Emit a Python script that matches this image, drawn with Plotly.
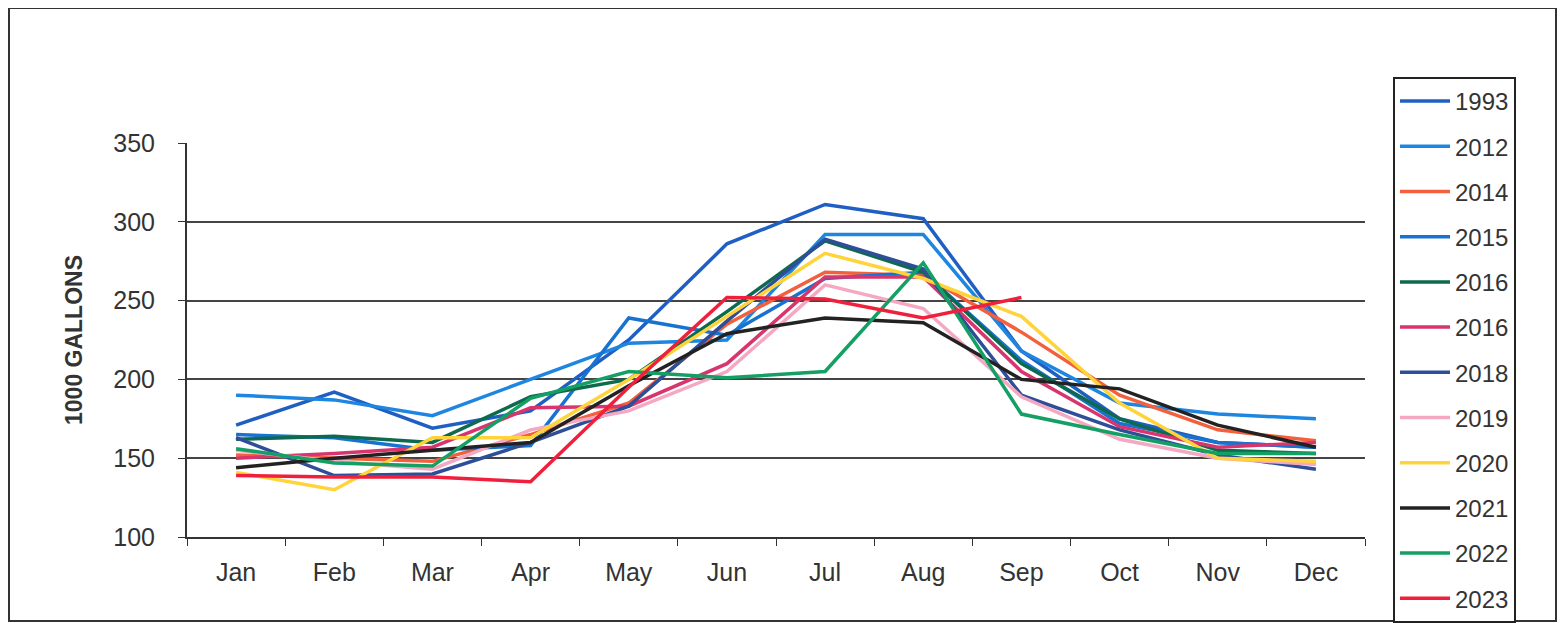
import plotly.graph_objects as go

months = ["Jan", "Feb", "Mar", "Apr", "May", "Jun", "Jul", "Aug", "Sep", "Oct", "Nov", "Dec"]

names = ["1993", "2012", "2014", "2015", "2016", "2016", "2018", "2019", "2020", "2021", "2022", "2023"]

y1993 = [171, 192, 169, 180, 225, 286, 311, 302, 218, 175, 160, 157]
y2012 = [190, 187, 177, 200, 223, 225, 292, 292, 218, 185, 178, 175]
y2014 = [152, 150, 148, 165, 185, 235, 268, 266, 230, 190, 168, 161]
y2015 = [165, 163, 155, 158, 239, 228, 264, 268, 212, 172, 160, 157]
y2016a = [162, 164, 160, 189, 200, 243, 288, 268, 210, 175, 155, 153]
y2016b = [150, 153, 157, 182, 183, 210, 265, 265, 205, 170, 157, 160]
y2018 = [163, 139, 140, 160, 183, 237, 289, 270, 190, 168, 152, 143]
y2019 = [155, 148, 143, 168, 180, 205, 260, 245, 189, 162, 150, 146]
y2020 = [141, 130, 163, 163, 200, 240, 280, 264, 240, 185, 150, 148]
y2021 = [144, 150, 155, 160, 196, 229, 239, 236, 200, 194, 171, 157]
y2022 = [156, 147, 145, 188, 205, 201, 205, 274, 178, 165, 153, 153]
y2023 = [139, 138, 138, 135, 195, 252, 251, 239, 252, None, None, None]

series = [y1993, y2012, y2014, y2015, y2016a, y2016b, y2018, y2019, y2020, y2021, y2022, y2023]
colors = ["#1F5FC4", "#1E86E0", "#F2603E", "#1872CF", "#0E6A4E", "#D8356E",
          "#2F4E98", "#F4A8C2", "#FFD43B", "#222222", "#14A064", "#F0203C"]

FONT = "Arial, Liberation Sans, sans-serif"

W, H = 1552, 615
L, T = 179, 135
PW, PH = 1178, 394

fig = go.Figure()
for i, (nm, ys, c) in enumerate(zip(names, series, colors)):
    fig.add_trace(go.Scatter(
        x=months, y=ys, mode="lines", name=nm,
        line=dict(color=c, width=3.5),
        legendgroup="g%d" % i,
        connectgaps=False,
    ))

def px_x(p):
    return (p - 8 - L) / PW

def px_y(p):
    return (T + PH - (p - 8)) / PH

fig.update_layout(
    width=W, height=H,
    margin=dict(l=L, r=W - L - PW, t=T, b=H - T - PH),
    paper_bgcolor="white", plot_bgcolor="white",
    font=dict(family=FONT, color="#333333", size=22),
    showlegend=True,
    legend=dict(
        x=px_x(1393), y=px_y(78), xanchor="left", yanchor="top",
        bgcolor="white", bordercolor="#222222", borderwidth=2,
        font=dict(family=FONT, size=24, color="#333333"),
        tracegroupgap=11,
        itemwidth=50,
        maxheight=900,
    ),
    xaxis=dict(
        type="category", categoryorder="array", categoryarray=months,
        range=[-0.5, 11.5],
        showline=True, linecolor="#333333", linewidth=2,
        ticks="outside", tickson="boundaries", ticklen=7, tickcolor="#333333",
        ticklabelstandoff=12,
        showgrid=False, tickfont=dict(size=25, color="#333333"),
    ),
    yaxis=dict(
        range=[100, 350], tickvals=[100, 150, 200, 250, 300, 350],
        showline=True, linecolor="#333333", linewidth=2,
        ticks="outside", ticklen=7, tickcolor="#333333",
        ticklabelstandoff=18,
        showgrid=True, gridcolor="#444444", gridwidth=1.5,
        zeroline=False,
        tickfont=dict(size=25, color="#333333"),
        title=dict(text="<b>1000 GALLONS</b>", font=dict(size=23, color="#333333"), standoff=24),
    ),
    shapes=[dict(type="rect", xref="paper", yref="paper",
                 x0=px_x(9), x1=px_x(1556), y0=px_y(621), y1=px_y(8),
                 line=dict(color="#333333", width=2), layer="below")],
)

fig.write_html("out.html")
